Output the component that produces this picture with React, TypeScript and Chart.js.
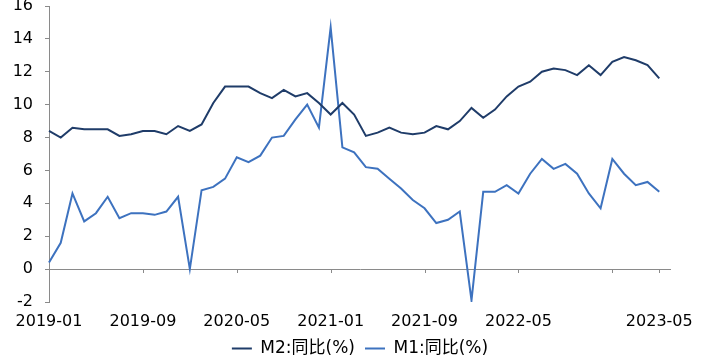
import React, { useEffect, useRef } from "react";
import { Chart, registerables } from "chart.js";

Chart.register(...registerables);

const MONTHS = [
  "2019-01", "2019-02", "2019-03", "2019-04", "2019-05", "2019-06", "2019-07", "2019-08", "2019-09", "2019-10", "2019-11", "2019-12",
  "2020-01", "2020-02", "2020-03", "2020-04", "2020-05", "2020-06", "2020-07", "2020-08", "2020-09", "2020-10", "2020-11", "2020-12",
  "2021-01", "2021-02", "2021-03", "2021-04", "2021-05", "2021-06", "2021-07", "2021-08", "2021-09", "2021-10", "2021-11", "2021-12",
  "2022-01", "2022-02", "2022-03", "2022-04", "2022-05", "2022-06", "2022-07", "2022-08", "2022-09", "2022-10", "2022-11", "2022-12",
  "2023-01", "2023-02", "2023-03", "2023-04", "2023-05", "2023-06",
];

const M2 = [
  8.4, 8.0, 8.6, 8.5, 8.5, 8.5, 8.1, 8.2, 8.4, 8.4, 8.2, 8.7,
  8.4, 8.8, 10.1, 11.1, 11.1, 11.1, 10.7, 10.4, 10.9, 10.5, 10.7, 10.1,
  9.4, 10.1, 9.4, 8.1, 8.3, 8.6, 8.3, 8.2, 8.3, 8.7, 8.5, 9.0,
  9.8, 9.2, 9.7, 10.5, 11.1, 11.4, 12.0, 12.2, 12.1, 11.8, 12.4, 11.8,
  12.6, 12.9, 12.7, 12.4, 11.6,
];

const M1 = [
  0.4, 1.6, 4.6, 2.9, 3.4, 4.4, 3.1, 3.4, 3.4, 3.3, 3.5, 4.4,
  0.0, 4.8, 5.0, 5.5, 6.8, 6.5, 6.9, 8.0, 8.1, 9.1, 10.0, 8.6,
  14.7, 7.4, 7.1, 6.2, 6.1, 5.5, 4.9, 4.2, 3.7, 2.8, 3.0, 3.5,
  -1.9, 4.7, 4.7, 5.1, 4.6, 5.8, 6.7, 6.1, 6.4, 5.8, 4.6, 3.7,
  6.7, 5.8, 5.1, 5.3, 4.7,
];

const TICK_MONTHS = ["2019-01", "2019-09", "2020-05", "2021-01", "2021-09", "2022-05", "2023-01", "2023-05"];
const LABELED_MONTHS = ["2019-01", "2019-09", "2020-05", "2021-01", "2021-09", "2022-05", "2023-05"];

const Y_MIN = -2;
const Y_MAX = 16;
const Y_STEP = 2;

const SERIES_NAMES = ["M2:同比(%)", "M1:同比(%)"];

export default function App() {
  const ref = useRef<HTMLCanvasElement>(null);

  useEffect(() => {
    document.body.style.margin = "0";
    document.body.style.overflow = "hidden";
    const axisColor = "#8a8a8a";
    const family = "'DejaVu Sans', 'Noto Sans CJK SC', sans-serif";
    const font = { family, size: 16 };

    const zeroTicks = {
      id: "zeroTicks",
      afterLayout(chart: any) {
        const lg = chart.legend;
        if (lg) {
          lg.left = chart.chartArea.left;
          lg.right = chart.chartArea.right;
          lg.width = lg.right - lg.left;
        }
      },
      beforeDatasetsDraw(chart: any) {
        const { ctx, scales } = chart;
        const x = scales.x;
        const y0 = scales.y.getPixelForValue(0);
        ctx.save();
        ctx.strokeStyle = axisColor;
        ctx.lineWidth = 1;
        ctx.beginPath();
        TICK_MONTHS.forEach((m) => {
          const px = Math.round(x.getPixelForValue(MONTHS.indexOf(m))) + 0.5;
          ctx.moveTo(px, Math.round(y0));
          ctx.lineTo(px, Math.round(y0) + 4);
        });
        ctx.stroke();
        ctx.restore();
      },
    };

    const chart = new Chart(ref.current!, {
      type: "line",
      data: {
        labels: MONTHS,
        datasets: [
          {
            label: SERIES_NAMES[0],
            data: M2,
            borderColor: "#1f3c69",
            backgroundColor: "#1f3c69",
            borderWidth: 2,
            pointRadius: 0,
            tension: 0,
          },
          {
            label: SERIES_NAMES[1],
            data: M1,
            borderColor: "#3d72bf",
            backgroundColor: "#3d72bf",
            borderWidth: 2,
            pointRadius: 0,
            tension: 0,
          },
        ],
      },
      options: {
        animation: false,
        responsive: true,
        maintainAspectRatio: false,
        layout: { padding: { left: 0, right: 33, top: 0, bottom: 0 } },
        plugins: {
          legend: {
            position: "bottom",
            labels: {
              usePointStyle: true,
              pointStyle: "line",
              pointStyleWidth: 20,
              boxWidth: 20,
              padding: 10,
              color: "#000",
              font: { family, size: 17 },
            },
          },
          tooltip: { enabled: false },
        },
        scales: {
          x: {
            offset: false,
            grid: { display: false, drawTicks: false },
            border: { display: false },
            afterFit: (s: any) => {
              s.paddingLeft = 0;
              s.paddingRight = 0;
              s.height = 28;
            },
            ticks: {
              autoSkip: false,
              maxRotation: 0,
              minRotation: 0,
              padding: 10,
              color: "#000",
              font,
              callback: (_v: any, i: number) => (LABELED_MONTHS.includes(MONTHS[i]) ? MONTHS[i] : ""),
            },
          },
          y: {
            min: Y_MIN,
            max: Y_MAX,
            afterFit: (s: any) => {
              s.width = 49;
              s.paddingTop = 6;
              s.paddingBottom = 0;
            },
            ticks: {
              stepSize: Y_STEP,
              padding: 12,
              color: "#000",
              font: { ...font, lineHeight: 0.75 },
            },
            grid: {
              color: (c: any) => (c.tick && c.tick.value === 0 ? axisColor : "transparent"),
              tickColor: axisColor,
              tickLength: 4,
              lineWidth: 1,
            },
            border: { display: true, color: axisColor, width: 1 },
          },
        },
      },
      plugins: [zeroTicks],
    });
    return () => chart.destroy();
  }, []);

  return (
    <div style={{ width: 704, height: 357, overflow: "hidden" }}>
      <div style={{ width: 704, height: 367, position: "relative" }}>
        <canvas ref={ref} />
      </div>
    </div>
  );
}
